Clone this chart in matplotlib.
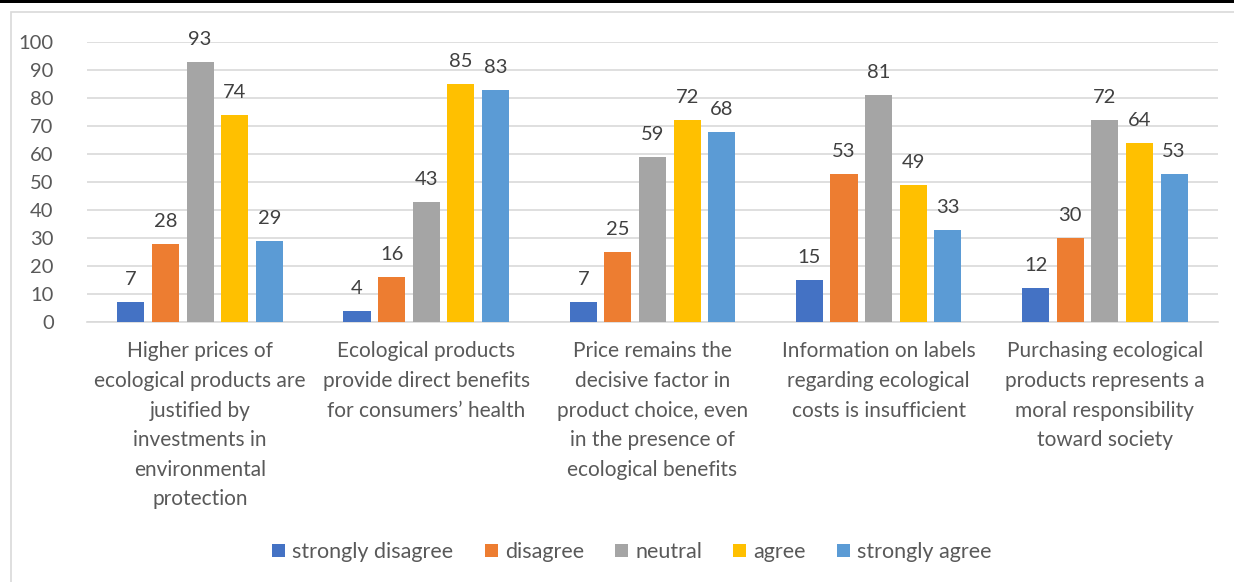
import numpy as np
import matplotlib.pyplot as plt
from matplotlib.patches import Rectangle

categories = [
    "Higher prices of\necological products are\njustified by\ninvestments in\nenvironmental\nprotection",
    "Ecological products\nprovide direct benefits\nfor consumers\u2019 health",
    "Price remains the\ndecisive factor in\nproduct choice, even\nin the presence of\necological benefits",
    "Information on labels\nregarding ecological\ncosts is insufficient",
    "Purchasing ecological\nproducts represents a\nmoral responsibility\ntoward society",
]
series_names = ["strongly disagree", "disagree", "neutral", "agree", "strongly agree"]
strongly_disagree = [7, 4, 7, 15, 12]
disagree = [28, 16, 25, 53, 30]
neutral = [93, 43, 59, 81, 72]
agree = [74, 85, 72, 49, 64]
strongly_agree = [29, 83, 68, 33, 53]
y_ticks = [0, 10, 20, 30, 40, 50, 60, 70, 80, 90, 100]

colors = ["#4472C4", "#ED7D31", "#A5A5A5", "#FFC000", "#5B9BD5"]
text_color = "#595959"

plt.rcParams['font.family'] = ['Lato', 'DejaVu Sans']

fig = plt.figure(figsize=(12.34, 5.82), dpi=100)
ax = fig.add_axes([0.0705, 0.4467, 0.9165, 0.4811])

# chart frame and top rule
fig.patches.append(Rectangle((0.009, -0.01), 1.0, 0.99, transform=fig.transFigure,
                             fill=False, edgecolor="#d9d9d9", linewidth=1.2))
fig.patches.append(Rectangle((0, 0.995), 1, 0.005, transform=fig.transFigure,
                             facecolor="black", edgecolor="none"))

x = np.arange(len(categories))
width = 0.12
step = 0.153
all_series = [strongly_disagree, disagree, neutral, agree, strongly_agree]
for i, (vals, name, c) in enumerate(zip(all_series, series_names, colors)):
    pos = x + (i - 2) * step
    bars = ax.bar(pos, vals, width, color=c, label=name, zorder=3)
    for b, v in zip(bars, vals):
        ax.text(b.get_x() + b.get_width() / 2, v + 5.0, str(v), ha='center', va='bottom',
                fontsize=14.5, color="#404040")

ax.set_xlim(-0.5, len(categories) - 0.5)
ax.set_ylim(0, 100)
ax.set_yticks(y_ticks)
ax.yaxis.grid(True, color="#d9d9d9", linewidth=1.2, zorder=0)
ax.set_axisbelow(True)
for s in ["top", "right", "left"]:
    ax.spines[s].set_visible(False)
ax.spines["bottom"].set_color("#d9d9d9")
ax.spines["bottom"].set_linewidth(1.2)
ax.tick_params(axis='both', length=0, colors=text_color)
ax.tick_params(axis='y', pad=24, labelsize=14.5)
ax.set_xticks(x)
ax.set_xticklabels(categories, linespacing=1.6, fontsize=15)
ax.tick_params(axis='x', pad=14)

fig.legend(loc='center', bbox_to_anchor=(0.512, 0.0515), ncol=5, frameon=False,
           fontsize=15.5, handlelength=0.6, handleheight=0.6, handletextpad=0.33,
           columnspacing=1.45, labelcolor=text_color)

fig.savefig("out.png", dpi=100)
